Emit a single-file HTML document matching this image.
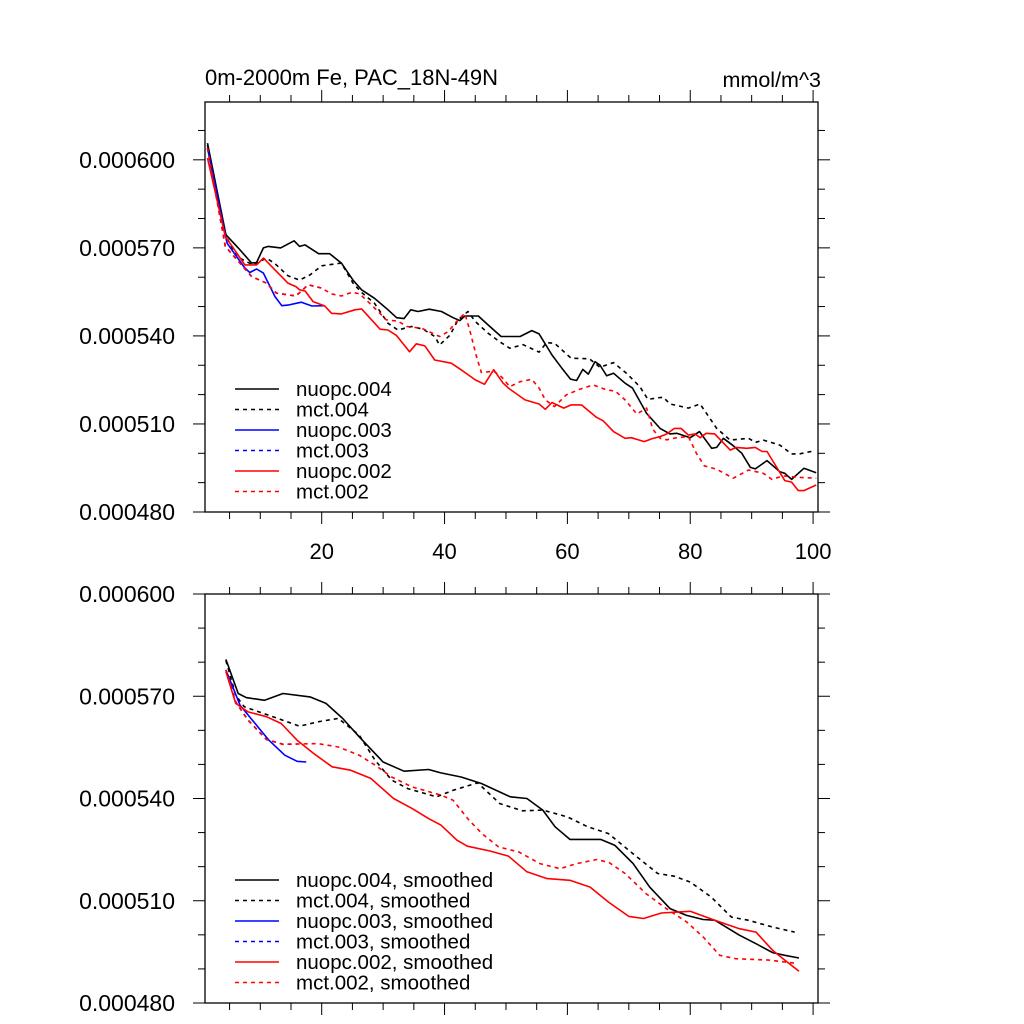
<!DOCTYPE html>
<html><head><meta charset="utf-8"><style>
html,body{margin:0;padding:0;background:#fff;}
svg{display:block;font-family:"Liberation Sans",sans-serif;}
</style></head><body>
<svg id="chart" width="1024" height="1024" viewBox="0 0 1024 1024" xmlns="http://www.w3.org/2000/svg">
<rect x="0" y="0" width="1024" height="1024" fill="#fff"/>
<text x="205" y="85" font-size="22">0m-2000m Fe, PAC_18N-49N</text>
<text x="821" y="87" font-size="21.5" text-anchor="end">mmol/m^3</text>
<g id="top"></g>
<g id="bottom"></g>
</svg>
<script>
// ---- top panel data (year, value in 1e-6 mmol/m^3) ----
const topYTicks = [480, 510, 540, 570, 600];
const topYTickLabels = ["0.000480", "0.000510", "0.000540", "0.000570", "0.000600"];
const xTicks = [20, 40, 60, 80, 100];
const xTickLabels = ["20", "40", "60", "80", "100"];

const nuopc004X = [1.4,4.4,6.4,8.6,9.4,10.5,11.3,13.3,15.5,16.4,17.3,19.5,21.3,23.2,25.1,26.5,28.6,30.8,32.2,33.4,34.5,35.7,37.5,39.5,41.4,42.5,43.3,45.5,47.1,49.2,52.3,54.2,55.4,57.5,59.1,60.5,61.5,62.5,63.4,64.5,65.3,66.4,67.5,69.4,70.6,72.9,75.1,76.7,77.8,80,81.5,83.5,84.3,85.4,87,88.4,89.8,90.6,92.5,94.6,95.4,96.5,98.5,100.5];
const nuopc004Y = [605.7,574.5,570,564.8,565,570,570.5,570,572.4,570.5,571,568,568,564.8,559,555.7,552.8,548.9,546.2,545.9,548.9,548.3,549.1,548.3,546.2,545.2,546.8,546.8,543.7,539.8,539.8,541.8,540.7,533.5,529,525.3,524.8,528.6,527,531.2,530.1,526.4,527.3,523.9,522.2,513.6,508.5,506.6,506.8,505.3,507.4,501.7,502,505.1,502.6,500,495.2,494.7,497.5,493.7,493.2,491.1,494.9,493.4];

const mct004X = [1.4,4.4,6.2,8.8,11,12.3,14.5,16.4,18.1,20,22.1,23.2,25.1,26.5,28.6,30.8,32.4,34.6,36.5,38.4,39.2,40.9,42.2,43.8,45,47.1,49,50.6,52.8,55.4,56.6,57.9,60.6,63.6,65.3,67.5,69.6,71.8,73.1,75.6,76.7,79.7,81.6,84.3,86.5,89.5,90.6,91.9,94.6,96.5,97.8,100.3];
const mct004Y = [605,574,567,564.2,566.5,564.8,560.5,559,560.8,563.9,564.5,564.8,558,554.8,551.1,544.3,542,543.2,542.3,539.8,536.9,540.3,545.5,548.3,544.9,540.9,538,535.8,537,534.5,537.7,537.5,532.4,532.2,529.3,530.9,527.3,522.7,518.4,519.1,516.8,515.4,516.8,508.5,504.5,505.1,503.7,504.5,502.8,499.8,499.8,500.9];

const nuopc003X = [1.4,4.6,7.5,8.3,9.4,10.5,12.4,13.5,14.5,16.7,18.4,20.5];
const nuopc003Y = [604,571.6,563.1,561.6,562.8,561.4,553.4,550.3,550.5,551.5,550.2,550.3];

const mct003X = [1.4,4.3,6.2,8.6,11,12.6,15.8,17.8,20];
const mct003Y = [604,570.5,566,560.2,558,554.6,553.6,557.4,556.3];

const nuopc002X = [1.4,4.3,7.5,9.4,10.5,12.4,14.5,15.8,16.4,17.3,18.6,20.5,21.6,23.2,25.4,26.5,29.5,30.8,32.2,34.3,35.4,36.8,38.4,41.1,43,45,46.5,48,49.5,50.4,53.1,55.4,56.4,57.5,59.4,60.6,62.3,64.7,65.8,67.5,69.4,70.4,72.5,73.8,75.1,76.2,77.4,78.5,79.7,80.8,81.6,82.6,84,86.5,87.5,89.2,90.6,91.7,92.5,94,95.4,96.5,97.6,98.5,100.5];
const nuopc002Y = [600.6,573.9,564.2,564.2,566.5,562.5,558,556.8,555.7,555.3,551.7,550.2,547.7,547.5,548.9,549.2,542.3,542,540.1,534.6,537.3,536.6,531.8,530.7,528,525,523.5,528.5,524,522.2,518.2,516.8,515,517.3,515.4,516.5,516.5,512.3,511.1,507.4,505.1,505.3,504,505,505.7,506.6,508.5,508.5,506.2,506.6,505.3,506.8,506.6,501.1,502,501.7,502,500.6,500.6,495.5,490.7,490.2,487.3,487.3,489.2];

const mct002X = [1.4,4.3,6.2,8.6,11,12.6,15.8,17.8,20,21.6,23.2,24.9,26.2,28.9,30.5,32.4,33.9,36.3,39.2,40.6,42.2,43.3,44.1,45.2,46,48,49.3,50.6,52.3,54.2,55.4,56.4,57.9,59.8,62,64.2,66.4,67.8,69.4,71.3,72.9,73.9,75.1,76.2,77.8,79.7,81,82.3,84.3,87,89.5,91.9,93.3,95.1,97.8,100.5];
const mct002Y = [604,570.5,566,560.2,558,554.6,553.6,557.4,556.3,554.3,553.6,554.9,554.3,548.9,545.5,545,543.2,542.6,539.8,541.5,545.5,547.7,542,533,527.5,528,526,522.7,524.4,525.2,522.2,518.2,515.9,519.9,521.8,523.3,521.6,521.2,518.2,513.4,515.4,508.2,505.1,504.6,505.3,505.7,500,495.7,494.6,491.5,494.3,493.2,491.1,492.3,491.8,491.5];

// ---- bottom panel data (smoothed) ----
const botYTicks = [480, 510, 540, 570, 600];
const botYTickLabels = ["0.000480", "0.000510", "0.000540", "0.000570", "0.000600"];

const sNuopc004X = [4.4,6.4,7.7,10.7,13.7,18.1,20.7,23.4,26.1,30,33.4,37.4,39.4,42.7,46,50.7,53.4,56,58,60.4,65.4,67.7,70.7,73.4,76.7,79.4,82.1,84,88,90.7,93.4,95.4,97.7];
const sNuopc004Y = [580.8,570.8,569.6,568.8,570.8,569.8,567.9,563.5,558.1,550.7,548,548.5,547.5,546.3,544.4,540.5,540,536.6,531.7,528,528,526.3,520.9,514,507.7,505.7,504.5,504.3,499.9,497.4,494.8,494,493.2];

const sMct004X = [4.4,6,7.4,11.4,16.4,19.4,22.7,26.1,28.7,31.4,34,38.7,41.4,45.4,49,52.7,56,60,63.3,66.7,70,74.7,77.4,80,83.4,86.7,89.4,93.4,97];
const sMct004Y = [580.5,570.3,566.9,564.4,561.2,562.5,563.5,558.6,551.2,545.4,542.9,540.5,542.4,544.6,538.5,536.4,536.6,534.6,531.7,529.7,524.8,518,517.2,515.5,511.1,505.2,504.3,502.3,500.8];

const sNuopc003X = [4.4,6.7,8.7,11.4,14,16,17.5];
const sNuopc003Y = [577.7,567.4,563,557.1,552.7,550.9,550.7];

const sMct003X = [4.4,6,8,11,13.7,16];
const sMct003Y = [577.7,568.3,563,557.3,555.9,556];

const sNuopc002X = [4.4,6,8,11,13.4,16,18.7,21.7,24.7,28,31.7,34.7,37.4,39.4,42,43.7,47.4,50.4,53.4,56.7,60.4,63.7,66.7,70,72.4,75.3,80,84,88,90.7,93.4,95.4,97.7];
const sNuopc002Y = [577.2,567.9,565.4,564,562,557.1,553.2,549.3,548.3,545.9,540,537.1,534.1,532.2,527.8,526,524.6,523.1,518.5,516.5,516,514,509.6,505.4,504.8,506.4,506.9,504.3,501.8,500.8,495.5,492.6,489.3];

const sMct002X = [4.4,6,8,11,13.7,19.4,22.7,26.1,28.7,31.4,34.7,39.4,41.4,44,46.1,48.8,52.1,55.5,58.8,61.5,64.8,66.8,69.4,72.8,76.1,79.4,82.1,84.8,87.4,92.8,97.5];
const sMct002Y = [577.7,568.3,563,557.3,555.9,556.1,555.1,552.7,549.8,546.3,543.4,541,539.5,533.6,529.7,525.8,524.3,520.9,519.4,520.9,522.1,521.2,518,512.1,507.7,503.8,499.4,494,493,492.6,491.6];

const legendTop = ["nuopc.004","mct.004","nuopc.003","mct.003","nuopc.002","mct.002"];
const legendBottom = ["nuopc.004, smoothed","mct.004, smoothed","nuopc.003, smoothed","mct.003, smoothed","nuopc.002, smoothed","mct.002, smoothed"];

const NS = "http://www.w3.org/2000/svg";
function mk(parent, tag, attrs) {
  const e = document.createElementNS(NS, tag);
  for (const k in attrs) e.setAttribute(k, attrs[k]);
  parent.appendChild(e);
  return e;
}

function drawPanel(g, cfg) {
  const sx = v => cfg.x0 + (v - cfg.xmin) / (cfg.xmax - cfg.xmin) * (cfg.x1 - cfg.x0);
  const sy = v => cfg.y1 - (v - cfg.ymin) / (cfg.ymax - cfg.ymin) * (cfg.y1 - cfg.y0);
  const frame = mk(g, 'rect', {x: cfg.x0, y: cfg.y0, width: cfg.x1 - cfg.x0, height: cfg.y1 - cfg.y0, fill: 'none', stroke: '#000', 'stroke-width': 1.3});
  
  
  for (let v = 5; v <= cfg.xmax; v += 5) {
    const major = v % 20 === 0;
    const L = major ? 12 : 7;
    const x = sx(v);
    const t1 = mk(g, 'line', {x1: x, x2: x, y1: cfg.y1, y2: cfg.y1 + L, stroke: '#000', 'stroke-width': 1});
    
    
    const t2 = mk(g, 'line', {x1: x, x2: x, y1: cfg.y0, y2: cfg.y0 - L, stroke: '#000', 'stroke-width': 1});
    
    
  }
  if (cfg.xlabels) {
    xTicks.forEach((v, i) => {
      const t = mk(g, 'text', {x: sx(v), y: cfg.y1 + 47, 'font-size': 22, 'text-anchor': 'middle'});
      t.textContent = xTickLabels[i];
      
      
    });
  }
  for (let v = cfg.ymin; v <= cfg.ymax + 0.01; v += 10) {
    const major = (v - 480) % 30 === 0;
    const L = major ? 12 : 7;
    const y = sy(v);
    const t1 = mk(g, 'line', {x1: cfg.x0, x2: cfg.x0 - L, y1: y, y2: y, stroke: '#000', 'stroke-width': 1});
    
    
    const t2 = mk(g, 'line', {x1: cfg.x1, x2: cfg.x1 + L, y1: y, y2: y, stroke: '#000', 'stroke-width': 1});
    
    
  }
  cfg.yticks.forEach((v, i) => {
    const t = mk(g, 'text', {x: 175, y: sy(v) + 8, 'font-size': 23, 'text-anchor': 'end'});
    t.textContent = cfg.ylabels[i];
    
    
  });
  cfg.series.forEach(s => {
    const pts = s.xs.map((xv, i) => sx(xv).toFixed(1) + ',' + sy(s.ys[i]).toFixed(1)).join(' ');
    const attrs = {points: pts, fill: 'none', stroke: s.color, 'stroke-width': 1.6, 'stroke-linejoin': 'round'};
    if (s.dash) attrs['stroke-dasharray'] = '4,4';
    const p = mk(g, 'polyline', attrs);
    
    
  });
  cfg.legend.forEach((lab, i) => {
    const s = cfg.series[i];
    const y = cfg.legY + i * 20.5;
    const la = {x1: 235, x2: 279, y1: y, y2: y, stroke: s.color, 'stroke-width': 1.6};
    if (s.dash) la['stroke-dasharray'] = '4,4';
    const ln = mk(g, 'line', la);
    
    
    const t = mk(g, 'text', {x: 296, y: y + 7, 'font-size': 20.5});
    t.textContent = lab;
    
    
  });
}

const topSeries = [
  {name: 'line-nuopc-004', xs: nuopc004X, ys: nuopc004Y, color: '#000', dash: false},
  {name: 'line-mct-004', xs: mct004X, ys: mct004Y, color: '#000', dash: true},
  {name: 'line-nuopc-003', xs: nuopc003X, ys: nuopc003Y, color: '#0000ff', dash: false},
  {name: 'line-mct-003', xs: mct003X, ys: mct003Y, color: '#0000ff', dash: true},
  {name: 'line-nuopc-002', xs: nuopc002X, ys: nuopc002Y, color: '#ff0000', dash: false},
  {name: 'line-mct-002', xs: mct002X, ys: mct002Y, color: '#ff0000', dash: true}
];
const botSeries = [
  {name: 'line-nuopc-004-smoothed', xs: sNuopc004X, ys: sNuopc004Y, color: '#000', dash: false},
  {name: 'line-mct-004-smoothed', xs: sMct004X, ys: sMct004Y, color: '#000', dash: true},
  {name: 'line-nuopc-003-smoothed', xs: sNuopc003X, ys: sNuopc003Y, color: '#0000ff', dash: false},
  {name: 'line-mct-003-smoothed', xs: sMct003X, ys: sMct003Y, color: '#0000ff', dash: true},
  {name: 'line-nuopc-002-smoothed', xs: sNuopc002X, ys: sNuopc002Y, color: '#ff0000', dash: false},
  {name: 'line-mct-002-smoothed', xs: sMct002X, ys: sMct002Y, color: '#ff0000', dash: true}
];

const gTop = document.getElementById('top');


drawPanel(gTop, {name: 'top-panel', x0: 205, x1: 818, y0: 102, y1: 512, xmin: 1, xmax: 100.8, ymin: 480, ymax: 619.7,
  yticks: topYTicks, ylabels: topYTickLabels, xlabels: true, series: topSeries, legend: legendTop, legY: 389});

const gBot = document.getElementById('bottom');


drawPanel(gBot, {name: 'bottom-panel', x0: 205, x1: 818, y0: 594, y1: 1003, xmin: 1, xmax: 100.8, ymin: 480, ymax: 600,
  yticks: botYTicks, ylabels: botYTickLabels, xlabels: false, series: botSeries, legend: legendBottom, legY: 880});
</script>
</body></html>
